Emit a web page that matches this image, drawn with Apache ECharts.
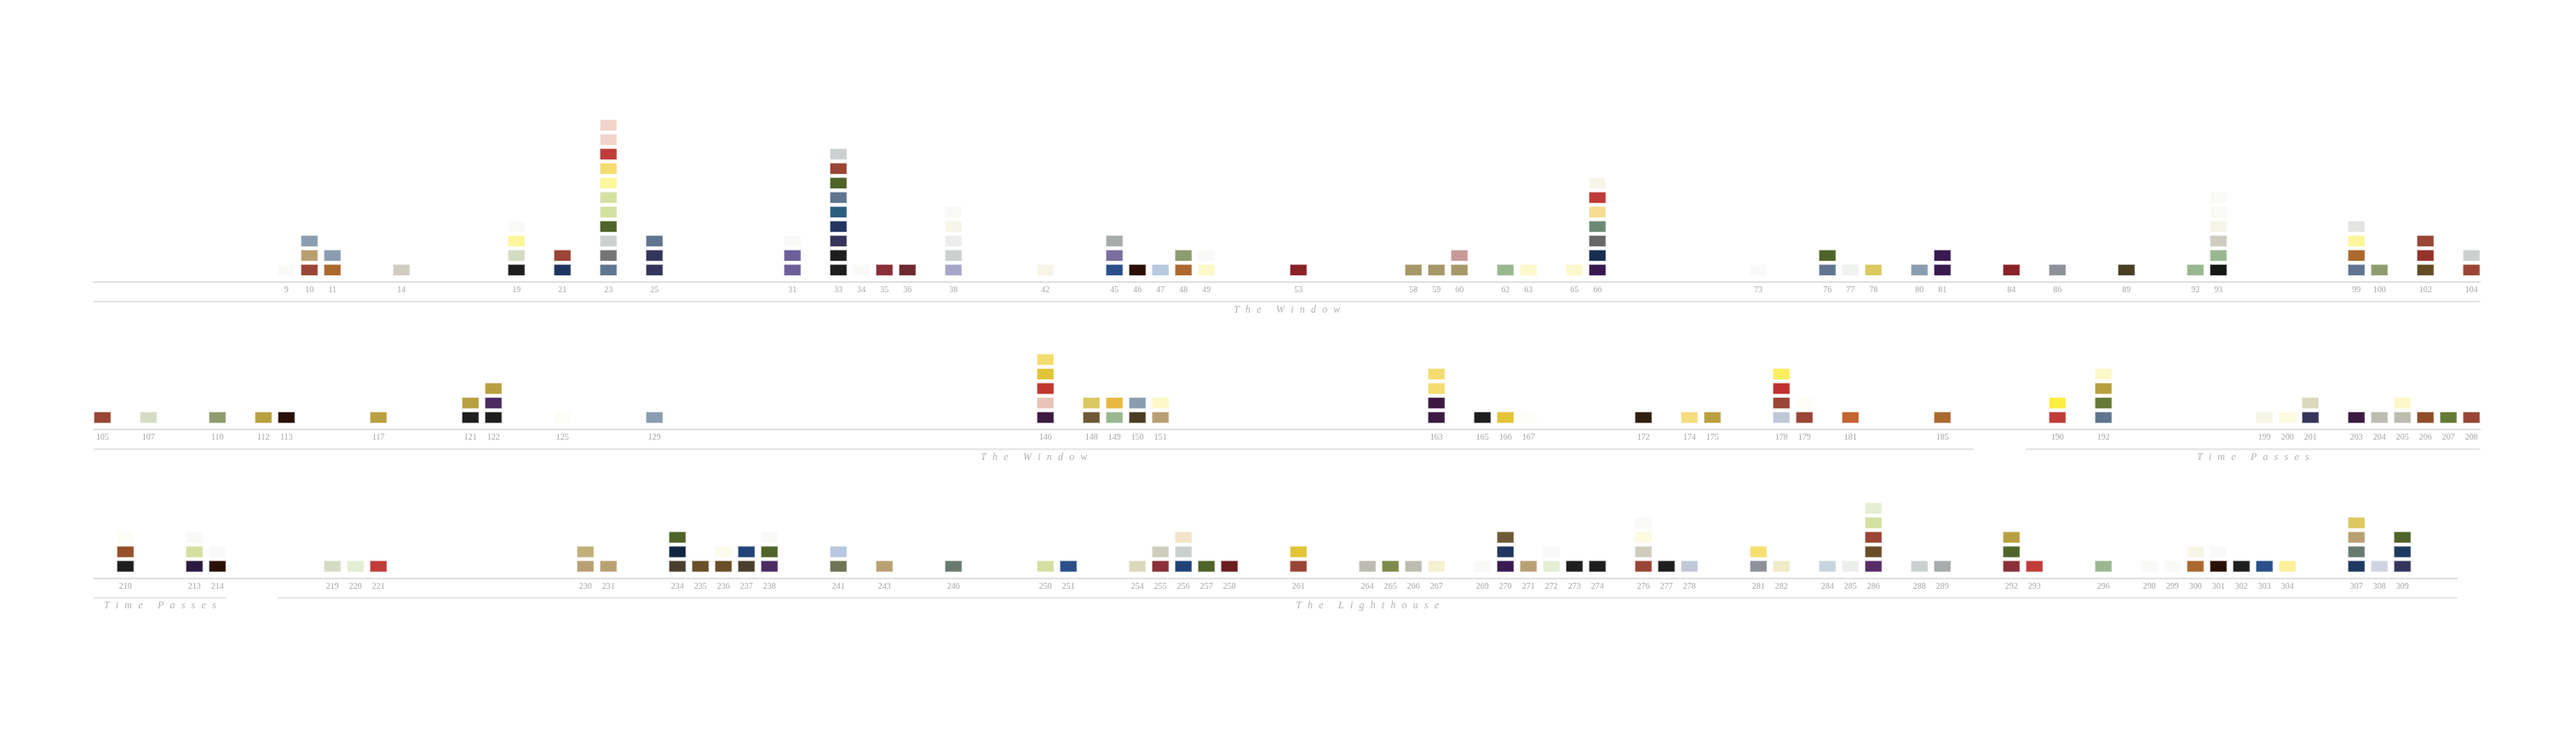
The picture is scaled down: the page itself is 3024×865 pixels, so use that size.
<!DOCTYPE html>
<html>
<head>
<meta charset="utf-8">
<script src="https://cdn.jsdelivr.net/npm/echarts@6/dist/echarts.min.js"></script>
<style>
html,body{margin:0;padding:0;background:#fff;}
#chart{width:3024px;height:865px;}
</style>
</head>
<body>
<div id="chart"></div>
<script>
// ---------- data ----------
const rowFirst = [1, 105, 209];
const rowLast  = [104, 208, 311];

const pages1 = [9,10,11,14,19,21,23,25,31,33,34,35,36,38,42,45,46,47,48,49,53,58,59,60,62,63,65,66,73,76,77,78,80,81,84,86,89,92,93,99,100,102,104];
const colors1 = [
  ['#f9f9f8'],
  ['#9a4535','#b9a073','#8a9db0'],
  ['#ab692d','#8a9db0'],
  ['#d0ccc0'],
  ['#1e1e1e','#d5dcc4','#fdf69a','#f9f9f7'],
  ['#1f3560','#9a4535'],
  ['#5f7590','#757575','#ccd0d0','#4e6428','#d4e0a0','#d4e0a0','#fdf69a','#f5dc70','#c03c38','#f0d4cc','#f0d4cc'],
  ['#35355c','#35355c','#5f7590'],
  ['#6e5e9a','#6e5e9a','#f9f9f7'],
  ['#1e1e1e','#1e1e1e','#35355c','#223560','#2b5f80','#5f7590','#4e6428','#9a4535','#ccd0d0'],
  ['#f9f9f7'],
  ['#8b2f38'],
  ['#6e2a2e'],
  ['#a6a6c8','#ccd0d0','#eceeec','#f7f5e8','#f9f9f7'],
  ['#f7f5e8'],
  ['#2a4f8a','#7a6ea0','#a8abab'],
  ['#2a0f05'],
  ['#b8c8e0'],
  ['#ab692d','#8e9c6e'],
  ['#fdf8c8','#f9f9f7'],
  ['#8a2228'],
  ['#a69868'],
  ['#a69868'],
  ['#a69868','#c89a98'],
  ['#9ab890'],
  ['#fdf8cc'],
  ['#fdf8cc'],
  ['#381a50','#182e50','#686868','#6b8a74','#f5dc90','#c03c38','#f7f5e8'],
  ['#f9f9f9'],
  ['#5f7590','#4e6428'],
  ['#f0f2f0'],
  ['#dcc860'],
  ['#8a9db0'],
  ['#381a50','#381a50'],
  ['#8a2228'],
  ['#8e909a'],
  ['#4a3e24'],
  ['#9ab890'],
  ['#151815','#9ab890','#d0ccc0','#f7f5e8','#f9f9f5','#f9f9f5'],
  ['#5f7590','#ab692d','#fdf69a','#e4e4e2'],
  ['#8e9c6e'],
  ['#634c24','#95322c','#9a4535'],
  ['#9a4535','#ccd0d0']
];

const pages2 = [105,107,110,112,113,117,121,122,125,129,146,148,149,150,151,163,165,166,167,172,174,175,178,179,181,185,190,192,199,200,201,203,204,205,206,207,208];
const colors2 = [
  ['#9a4535'],
  ['#d5dcc4'],
  ['#8e9c6e'],
  ['#b8a040'],
  ['#2a1005'],
  ['#b8a040'],
  ['#1e1e1e','#b8a040'],
  ['#1e1e1e','#4a2c60','#b8a040'],
  ['#fdfdf5'],
  ['#8a9db0'],
  ['#3c1a42','#e8c4b8','#c03830','#e2c438','#f5dc70'],
  ['#6e5a36','#dcc860'],
  ['#9ab890','#e8b840'],
  ['#4a3e24','#8a9db0'],
  ['#b9a073','#fdf8c8'],
  ['#3c1a42','#3c1a42','#f5dc70','#f5dc70'],
  ['#1e1e1e'],
  ['#e2c438'],
  ['#fdfdf5'],
  ['#302010'],
  ['#f5dc80'],
  ['#b8a040'],
  ['#c0c8d8','#9a4535','#c03030','#fdee60'],
  ['#9a4535','#fdfdf5'],
  ['#c46430'],
  ['#ab692d'],
  ['#c03c38','#fdee40'],
  ['#5f7590','#657a36','#b8a040','#fdf8c8'],
  ['#f5f5e8'],
  ['#fdfbe0'],
  ['#35355c','#dcd8bc'],
  ['#3c1a42'],
  ['#bcbcb0'],
  ['#bcbcb0','#fdf8c8'],
  ['#8e4e28'],
  ['#657a36'],
  ['#9a4535']
];

const pages3 = [210,213,214,219,220,221,230,231,234,235,236,237,238,241,243,246,250,251,254,255,256,257,258,261,264,265,266,267,269,270,271,272,273,274,276,277,278,281,282,284,285,286,288,289,292,293,296,298,299,300,301,302,303,304,307,308,309];
const colors3 = [
  ['#1e1e1e','#96502a','#fdfdf5'],
  ['#2a1a40','#d4e0a0','#f9f9f7'],
  ['#2a1005','#f9f9f7'],
  ['#d5dcc4'],
  ['#e4eed4'],
  ['#c03c38'],
  ['#b9a073','#c0b07a'],
  ['#b9a073'],
  ['#4a3e2c','#102640','#4e6428'],
  ['#6a4e28'],
  ['#6a4e28','#fdfbec'],
  ['#4a3e2c','#224378'],
  ['#4a2c60','#4e6428','#f9f9f7'],
  ['#6e7454','#b8c8e0'],
  ['#b9a073'],
  ['#687a70'],
  ['#d4e0a0'],
  ['#2a4f8a'],
  ['#dcd8bc'],
  ['#8b2f38','#d0ccc0'],
  ['#224378','#ccd0d0','#f5e4c8'],
  ['#4e6428'],
  ['#6a1e1e'],
  ['#9a4535','#e2c438'],
  ['#bcbcb0'],
  ['#7e8a4c'],
  ['#bcbcb0'],
  ['#f5f0d0'],
  ['#f9f9f7'],
  ['#381a50','#223560','#6e5a36'],
  ['#b9a073'],
  ['#e4eed4','#f9f9f7'],
  ['#1e1e1e'],
  ['#1e1e1e'],
  ['#9a4535','#d0ccc0','#fdfbe0','#f9f9f7'],
  ['#1e1e1e'],
  ['#c0c8d8'],
  ['#8e909a','#f5e070'],
  ['#f0eac8'],
  ['#c8d4e0'],
  ['#eceeec'],
  ['#582c68','#6a4e28','#9a4535','#d4e0a0','#e4eed4'],
  ['#ccd0d0'],
  ['#a8abab'],
  ['#8b2f38','#4e6428','#b8a040'],
  ['#c03c38'],
  ['#9ab890'],
  ['#f9f9f7'],
  ['#f9f9f7'],
  ['#ab692d','#f7f5e8'],
  ['#2a1005','#f9f9f7'],
  ['#1e1e1e'],
  ['#2a4f8a'],
  ['#fdf09a'],
  ['#1e3a60','#687a70','#b9a073','#dcc860'],
  ['#d0d4e0'],
  ['#35355c','#1e3a60','#4e6428']
];

const sectionNames = ['The Window', 'Time Passes', 'The Lighthouse'];
const sectionStart = [1, 189, 217];
const sectionEnd   = [186, 214, 311];

// ---------- layout ----------
const STEP = 27.0;          // px per page
const HALF = 0.3796;        // half band width in page units
const PITCH = 17;           // px per stacked square
const Y0 = 13.65 / PITCH;   // offset of first square centre above axis
const axisY = [330.5, 503.7, 678.3];
const gridH = [200, 120, 120];
const LEFT = 110;

const pagesByRow = [pages1, pages2, pages3];
const colorsByRow = [colors1, colors2, colors3];

const grids = [], xAxes = [], yAxes = [], series = [];

function spaced(s) {
  return s.split('').join('\u2009\u2009\u2009');
}

for (let r = 0; r < 3; r++) {
  const xmin = rowFirst[r] - HALF, xmax = rowLast[r] + HALF;
  const ymin = -Y0, ymax = -Y0 + gridH[r] / PITCH;
  grids.push({
    left: LEFT, top: axisY[r] - gridH[r], height: gridH[r],
    width: (xmax - xmin) * STEP, containLabel: false
  });
  xAxes.push({
    type: 'value', gridIndex: r, min: xmin, max: xmax, position: 'bottom',
    axisLine: { show: true, onZero: false, lineStyle: { color: '#e0e0e0', width: 2 } },
    axisTick: { show: false },
    splitLine: { show: false },
    axisLabel: {
      customValues: pagesByRow[r], margin: 5,
      color: '#a8a8a8', fontSize: 10, fontFamily: '"Liberation Serif", serif'
    }
  });
  yAxes.push({
    type: 'value', gridIndex: r, min: ymin, max: ymax, show: false
  });

  const pts = [];
  pagesByRow[r].forEach((p, i) => {
    colorsByRow[r][i].forEach((c, k) => {
      pts.push({ value: [p, k], itemStyle: { color: c } });
    });
  });
  series.push({
    type: 'scatter', xAxisIndex: r, yAxisIndex: r,
    symbol: 'rect', symbolSize: [20, 13],
    itemStyle: { borderColor: 'rgba(255,255,255,0.55)', borderWidth: 1, opacity: 1 },
    emphasis: { disabled: true },
    data: pts, silent: true, z: 3
  });

  // section segments inside this row
  const segs = [];
  for (let s = 0; s < sectionNames.length; s++) {
    const a = Math.max(sectionStart[s], rowFirst[r]);
    const b = Math.min(sectionEnd[s], rowLast[r]);
    if (a <= b) segs.push([a, b, s]);
  }
  series.push({
    type: 'custom', xAxisIndex: r, yAxisIndex: r, clip: false, silent: true,
    data: segs,
    renderItem: function (params, api) {
      const a = api.value(0), b = api.value(1), s = api.value(2);
      const p1 = api.coord([a - HALF, ymin]);
      const p2 = api.coord([b + HALF, ymin]);
      const ly = p1[1] + 23.5;
      return {
        type: 'group',
        children: [
          { type: 'line', shape: { x1: p1[0], y1: ly, x2: p2[0], y2: ly },
            style: { stroke: '#e4e4e4', lineWidth: 2 } },
          { type: 'text', x: (p1[0] + p2[0]) / 2, y: p1[1] + 33,
            style: { text: spaced(sectionNames[s]), fill: '#b4b4b4',
              font: 'italic 12px "Liberation Serif", serif',
              align: 'center', verticalAlign: 'middle' } }
        ]
      };
    }
  });
}

const chart = echarts.init(document.getElementById('chart'), null, { renderer: 'canvas' });
chart.setOption({
  animation: false,
  backgroundColor: '#ffffff',
  grid: grids,
  xAxis: xAxes,
  yAxis: yAxes,
  series: series
});
</script>
</body>
</html>
